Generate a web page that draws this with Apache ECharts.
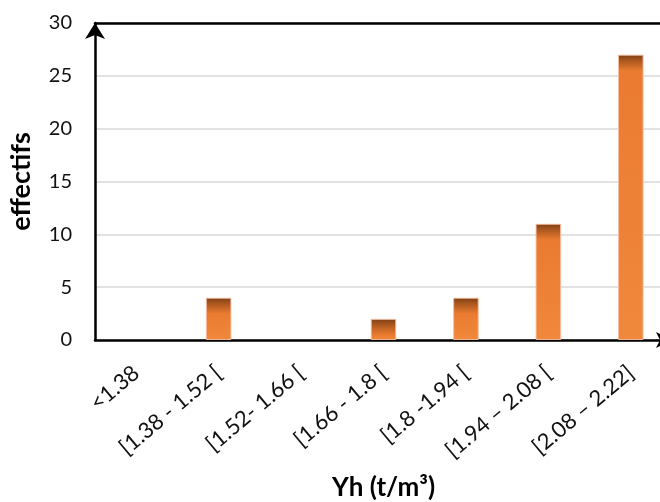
<!DOCTYPE html>
<html>
<head>
<meta charset="utf-8">
<script src="https://cdn.jsdelivr.net/npm/echarts@6/dist/echarts.min.js"></script>
<style>
  html, body { margin: 0; padding: 0; background: #fff; }
  #chart { width: 660px; height: 502px; }
</style>
</head>
<body>
<div id="chart"></div>
<script>
// Class intervals of wet density and the count observed in each
const categories = ['<1.38', '[1.38 - 1.52 [', '[1.52- 1.66 [', '[1.66 - 1.8 [', '[1.8 -1.94 [', '[1.94 \u2013 2.08 [', '[2.08 \u2013 2.22]'];
const counts = [0, 4, 0, 2, 4, 11, 27];
const yTicks = { min: 0, max: 30, interval: 5 };

const FONT = 'Lato, "Open Sans", sans-serif';
const PLOT_TOP = 23, PLOT_BOTTOM = 162; // grid margins in px
const plotHeight = 502 - PLOT_TOP - PLOT_BOTTOM;

// Bevelled bar: dark cap fading into orange over a fixed number of pixels
function barStyle(v) {
  const px = v / yTicks.max * plotHeight;
  if (px <= 0) return { color: 'transparent', borderWidth: 0 };
  const f = Math.min(1, 16 / px);
  return {
    color: {
      type: 'linear', x: 0, y: 0, x2: 0, y2: 1,
      colorStops: [
        { offset: 0, color: '#7c3f14' },
        { offset: f * 0.35, color: '#a9561e' },
        { offset: f, color: '#ea7b30' },
        { offset: 1, color: '#f0883c' }
      ]
    },
    borderColor: 'rgba(246,190,160,0.9)',
    borderWidth: 1
  };
}

const chart = echarts.init(document.getElementById('chart'), null, { renderer: 'canvas' });
chart.setOption({
  animation: false,
  backgroundColor: '#ffffff',
  grid: {
    left: 95, right: -12, top: PLOT_TOP, bottom: PLOT_BOTTOM,
    containLabel: false, outerBoundsMode: 'none'
  },
  xAxis: [{
    type: 'category',
    data: categories,
    name: 'Yh (t/m\u00B3)',
    nameLocation: 'middle',
    nameGap: 135,
    nameTextStyle: { fontFamily: FONT, fontSize: 26, fontWeight: 'bold', color: '#000' },
    axisLine: { show: true, lineStyle: { color: '#000', width: 2.5 }, symbol: ['none', 'arrow'], symbolSize: [12, 16] },
    axisTick: { show: false },
    axisLabel: { interval: 0, rotate: 40, margin: 30, fontFamily: FONT, fontSize: 22, color: '#111' },
    splitLine: { show: false }
  }, {
    type: 'category',
    position: 'top',
    data: categories,
    axisLine: { show: true, lineStyle: { color: '#000', width: 2.5 } },
    axisTick: { show: false },
    axisLabel: { show: false },
    splitLine: { show: false }
  }],
  yAxis: {
    type: 'value',
    min: yTicks.min, max: yTicks.max, interval: yTicks.interval,
    name: 'effectifs',
    nameLocation: 'middle',
    nameGap: 60,
    nameRotate: 90,
    nameTextStyle: { fontFamily: FONT, fontSize: 27, fontWeight: 'bold', color: '#000' },
    axisLine: { show: true, lineStyle: { color: '#000', width: 2.5 }, symbol: ['none', 'arrow'], symbolSize: [15, 16] },
    axisTick: { show: false },
    axisLabel: { margin: 23, fontFamily: FONT, fontSize: 20, color: '#111' },
    splitLine: { show: true, lineStyle: { color: '#d9d9d9', width: 1.5 } }
  },
  series: [{
    type: 'bar',
    barWidth: '31%',
    data: counts.map(v => ({ value: v, itemStyle: barStyle(v) })),
    z: 3
  }]
});
</script>
</body>
</html>
